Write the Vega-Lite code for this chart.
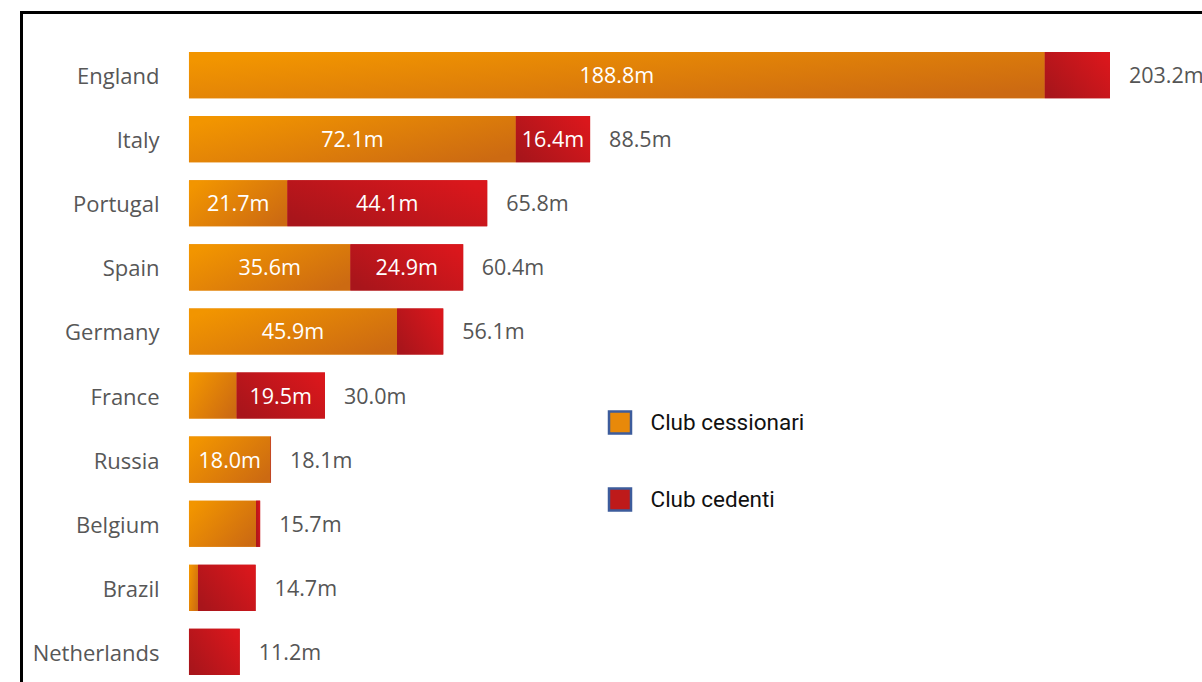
{
  "$schema": "https://vega.github.io/schema/vega-lite/v6.json",
  "width": 1190,
  "height": 702,
  "autosize": {"type": "none"},
  "padding": {"left": 21.5, "top": 12.5, "right": 0, "bottom": 0},
  "background": "white",
  "config": {
    "view": {"stroke": "#000000", "strokeWidth": 3},
    "font": "Open Sans"
  },
  "datasets": {
    "segments": [
      {"country": "England", "type": "Club cessionari", "order": 1, "value": 188.8, "label": "188.8m"},
      {"country": "England", "type": "Club cedenti", "order": 2, "value": 14.4, "label": ""},
      {"country": "Italy", "type": "Club cessionari", "order": 1, "value": 72.1, "label": "72.1m"},
      {"country": "Italy", "type": "Club cedenti", "order": 2, "value": 16.4, "label": "16.4m"},
      {"country": "Portugal", "type": "Club cessionari", "order": 1, "value": 21.7, "label": "21.7m"},
      {"country": "Portugal", "type": "Club cedenti", "order": 2, "value": 44.1, "label": "44.1m"},
      {"country": "Spain", "type": "Club cessionari", "order": 1, "value": 35.6, "label": "35.6m"},
      {"country": "Spain", "type": "Club cedenti", "order": 2, "value": 24.9, "label": "24.9m"},
      {"country": "Germany", "type": "Club cessionari", "order": 1, "value": 45.9, "label": "45.9m"},
      {"country": "Germany", "type": "Club cedenti", "order": 2, "value": 10.2, "label": ""},
      {"country": "France", "type": "Club cessionari", "order": 1, "value": 10.5, "label": ""},
      {"country": "France", "type": "Club cedenti", "order": 2, "value": 19.5, "label": "19.5m"},
      {"country": "Russia", "type": "Club cessionari", "order": 1, "value": 18.0, "label": "18.0m"},
      {"country": "Russia", "type": "Club cedenti", "order": 2, "value": 0.1, "label": ""},
      {"country": "Belgium", "type": "Club cessionari", "order": 1, "value": 14.8, "label": ""},
      {"country": "Belgium", "type": "Club cedenti", "order": 2, "value": 0.9, "label": ""},
      {"country": "Brazil", "type": "Club cessionari", "order": 1, "value": 2.0, "label": ""},
      {"country": "Brazil", "type": "Club cedenti", "order": 2, "value": 12.7, "label": ""},
      {"country": "Netherlands", "type": "Club cessionari", "order": 1, "value": 0, "label": ""},
      {"country": "Netherlands", "type": "Club cedenti", "order": 2, "value": 11.2, "label": ""}
    ],
    "totals": [
      {"country": "England", "total": 203.2, "label": "203.2m"},
      {"country": "Italy", "total": 88.5, "label": "88.5m"},
      {"country": "Portugal", "total": 65.8, "label": "65.8m"},
      {"country": "Spain", "total": 60.4, "label": "60.4m"},
      {"country": "Germany", "total": 56.1, "label": "56.1m"},
      {"country": "France", "total": 30.0, "label": "30.0m"},
      {"country": "Russia", "total": 18.1, "label": "18.1m"},
      {"country": "Belgium", "total": 15.7, "label": "15.7m"},
      {"country": "Brazil", "total": 14.7, "label": "14.7m"},
      {"country": "Netherlands", "total": 11.2, "label": "11.2m"}
    ]
  },
  "encoding": {
    "y": {
      "field": "country",
      "type": "nominal",
      "sort": ["England", "Italy", "Portugal", "Spain", "Germany", "France", "Russia", "Belgium", "Brazil", "Netherlands"],
      "scale": {"paddingInner": 0.28, "paddingOuter": 0.616},
      "axis": {
        "title": null,
        "domain": false,
        "ticks": false,
        "tickSize": 0,
        "grid": false,
        "labelPadding": -137.5,
        "labelAlign": "right",
        "labelOffset": 2,
        "labelFont": "Open Sans",
        "labelFontSize": 22,
        "labelColor": "#575757"
      }
    }
  },
  "layer": [
    {
      "data": {"name": "segments"},
      "transform": [
        {"stack": "value", "groupby": ["country"], "sort": [{"field": "order", "order": "ascending"}], "as": ["v0", "v1"]}
      ],
      "mark": {"type": "bar"},
      "encoding": {
        "x": {"field": "v0", "type": "quantitative", "scale": {"domain": [-36.95, 225.6], "nice": false, "zero": false}, "axis": null},
        "x2": {"field": "v1"},
        "color": {
          "field": "type",
          "type": "nominal",
          "scale": {"domain": ["Club cessionari", "Club cedenti"], "range": ["#E8890A", "#BE1A1A"]},
          "legend": {
            "title": null,
            "orient": "none",
            "legendX": 586,
            "legendY": 397.5,
            "direction": "vertical",
            "symbolType": "square",
            "symbolSize": 484,
            "symbolStrokeColor": "#3D5C9C",
            "symbolStrokeWidth": 2.5,
            "symbolOpacity": 1,
            "labelFont": "Roboto",
            "labelFontSize": 22.5,
            "labelColor": "#111111",
            "labelOffset": 18,
            "rowPadding": 44
          }
        }
      }
    },
    {
      "data": {"name": "segments"},
      "transform": [
        {"stack": "value", "groupby": ["country"], "sort": [{"field": "order", "order": "ascending"}], "as": ["v0", "v1"]},
        {"filter": "datum.type == 'Club cessionari'"}
      ],
      "mark": {
        "type": "bar",
        "fill": {"gradient": "linear", "x1": 0, "y1": 0.2, "x2": 1, "y2": 0.8,
                 "stops": [{"offset": 0, "color": "#F29500"}, {"offset": 1, "color": "#CC6A12"}]}
      },
      "encoding": {
        "x": {"field": "v0", "type": "quantitative"},
        "x2": {"field": "v1"}
      }
    },
    {
      "data": {"name": "segments"},
      "transform": [
        {"stack": "value", "groupby": ["country"], "sort": [{"field": "order", "order": "ascending"}], "as": ["v0", "v1"]},
        {"filter": "datum.type == 'Club cedenti'"}
      ],
      "mark": {
        "type": "bar",
        "fill": {"gradient": "linear", "x1": 0, "y1": 0.8, "x2": 1, "y2": 0.2,
                 "stops": [{"offset": 0, "color": "#A8151B"}, {"offset": 1, "color": "#DA171C"}]}
      },
      "encoding": {
        "x": {"field": "v0", "type": "quantitative"},
        "x2": {"field": "v1"}
      }
    },
    {
      "data": {"name": "segments"},
      "transform": [
        {"stack": "value", "groupby": ["country"], "sort": [{"field": "order", "order": "ascending"}], "as": ["v0", "v1"]},
        {"calculate": "(datum.v0 + datum.v1) / 2", "as": "mid"}
      ],
      "mark": {"type": "text", "color": "#FFFFFF", "font": "Open Sans", "fontSize": 21.5, "align": "center", "baseline": "middle", "dy": 2},
      "encoding": {
        "x": {"field": "mid", "type": "quantitative"},
        "text": {"field": "label"}
      }
    },
    {
      "data": {"name": "totals"},
      "mark": {"type": "text", "color": "#555555", "font": "Open Sans", "fontSize": 21.5, "align": "left", "baseline": "middle", "dx": 19, "dy": 2},
      "encoding": {
        "x": {"field": "total", "type": "quantitative"},
        "text": {"field": "label"}
      }
    }
  ]
}
